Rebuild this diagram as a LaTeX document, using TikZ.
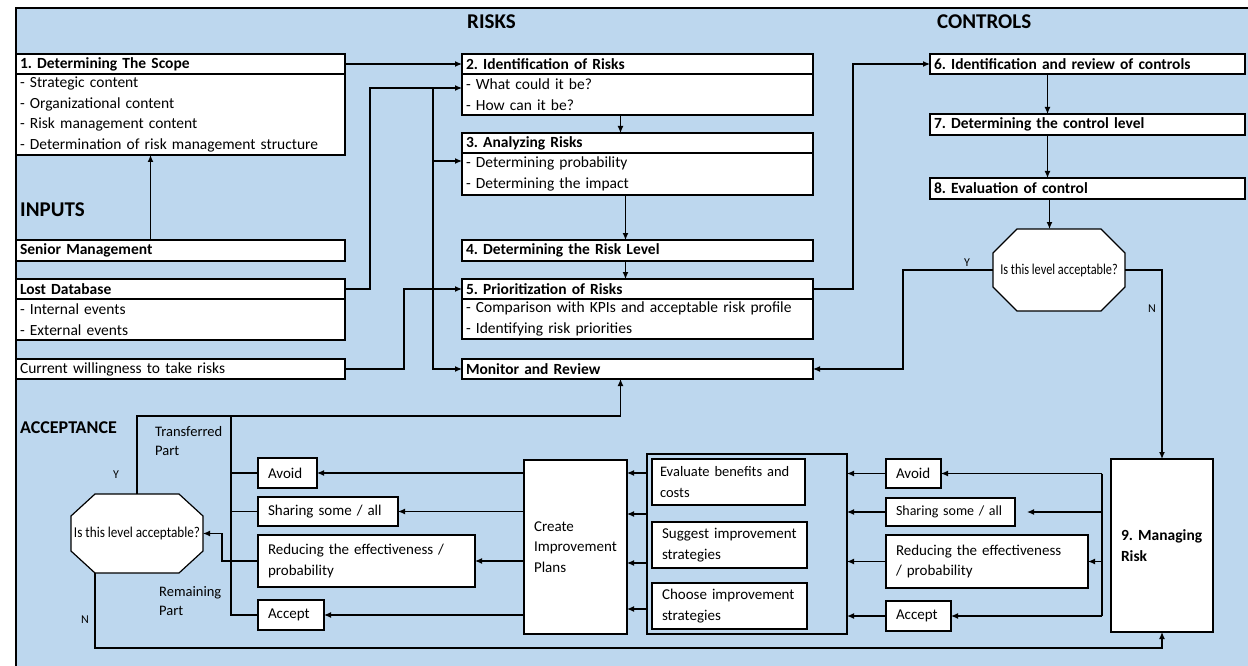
\documentclass[tikz,border=0pt]{standalone}
\usepackage{fontspec}
\setmainfont{Carlito}
\newfontfamily\narrowfont[FakeStretch=0.82]{Carlito}
\newfontfamily\narrowfontb[FakeStretch=0.88]{Carlito}
\usepackage{tikz}
\usetikzlibrary{arrows.meta,positioning,backgrounds}
\definecolor{bgblue}{RGB}{189,215,238}
\newcommand{\bodysize}{\fontsize{15.5}{20.5}\selectfont}
\newcommand{\lowsize}{\fontsize{15}{20.5}\selectfont}

\begin{document}
\frenchspacing
\begin{tikzpicture}[x=1pt,y=-1pt,
  box/.style={draw,fill=white,line width=2.2pt,anchor=north west,outer sep=0pt,
    inner xsep=4pt,inner ysep=0pt,align=left,font=\bodysize},
  hdr/.style={box,font=\bodysize\bfseries},
  sbox/.style={draw,fill=white,line width=1.3pt,anchor=north west,outer sep=0pt,
    inner xsep=10pt,inner ysep=0pt,align=left,font=\lowsize},
  ttl/.style={anchor=west,inner sep=0pt,font=\fontsize{21}{24}\selectfont\bfseries},
  lbl/.style={anchor=west,inner sep=0pt,align=left,font=\fontsize{14.5}{19}\selectfont},
  yn/.style={anchor=west,inner sep=0pt,font=\fontsize{12}{14}\selectfont},
  dec/.style={minimum width=132pt,inner sep=0pt,outer sep=0pt},
  ln/.style={line width=1.2pt},
  arr/.style={ln,-{Latex[length=7pt,width=6pt]}}]
\useasboundingbox (0,0) rectangle (1248,666);
% ---- INPUTS ----
\node[hdr,text width=321pt,minimum height=20pt] (s1h) at (16,54) {1. Determining The Scope};
\node[box,text width=321pt,minimum height=81pt] (s1b) at (16,74)
  {- Strategic content\\- Organizational content\\- Risk management content\\- Determination of risk management structure};
\node[ttl] (inp) at (20,210) {INPUTS};
\node[hdr,text width=321pt,minimum height=21pt] (sen) at (16,240) {Senior Management};
\node[hdr,text width=321pt,minimum height=20pt] (ldh) at (16,279) {Lost Database};
\node[box,text width=321pt,minimum height=41pt] (ldb) at (16,299) {- Internal events\\- External events};
\node[box,text width=321pt,minimum height=20pt] (cur) at (16,359) {Current willingness to take risks};
% ---- RISKS ----
\node[ttl] (rsk) at (467,22) {RISKS};
\node[hdr,text width=343pt,minimum height=20pt] (s2h) at (462,54) {2. Identification of Risks};
\node[box,text width=343pt,minimum height=41pt] (s2b) at (462,74) {- What could it be?\\- How can it be?};
\node[hdr,text width=343pt,minimum height=20pt] (s3h) at (462,133) {3. Analyzing Risks};
\node[box,text width=343pt,minimum height=42pt] (s3b) at (462,153) {- Determining probability\\- Determining the impact};
\node[hdr,text width=343pt,minimum height=21pt] (s4) at (462,240) {4. Determining the Risk Level};
\node[hdr,text width=343pt,minimum height=20pt] (s5h) at (462,279) {5. Prioritization of Risks};
\node[box,text width=343pt,minimum height=40pt] (s5b) at (462,299)
  {- Comparison with KPIs and acceptable risk profile\\- Identifying risk priorities};
\node[hdr,text width=343pt,minimum height=20pt] (mon) at (462,359) {Monitor and Review};
% ---- CONTROLS ----
\node[ttl] (ctl) at (937,22) {CONTROLS};
\node[hdr,text width=307pt,minimum height=20pt] (s6) at (930,54) {6. Identification and review of controls};
\node[hdr,text width=307pt,minimum height=21pt] (s7) at (930,114) {7. Determining the control level};
\node[hdr,text width=307pt,minimum height=21pt] (s8) at (930,178) {8. Evaluation of control};
\node[dec,minimum height=82pt,font=\narrowfont\fontsize{15}{18}\selectfont] (oct1) at (1059,270) {Is this level acceptable?};
\node[yn] (y1) at (964,263) {Y};
\node[yn] (n1) at (1148,309) {N};
% ---- ACCEPTANCE / managing ----
\node[ttl,font=\fontsize{18}{20}\selectfont\bfseries] (acc) at (20,428) {ACCEPTANCE};
\node[dec,minimum height=79pt,font=\narrowfontb\fontsize{15}{18}\selectfont] (oct2) at (137,533.5) {Is this level acceptable?};
\node[yn] (y2) at (113,475) {Y};
\node[yn] (n2) at (81,620) {N};
\node[lbl] (trp) at (155,441.5) {Transferred\\Part};
\node[lbl] (rmp) at (159,601) {Remaining\\Part};
\node[sbox,text width=39pt,minimum height=30pt] (avL) at (258,458) {Avoid};
\node[sbox,text width=120pt,minimum height=29pt] (shL) at (258,497) {Sharing some / all};
\node[sbox,text width=197pt,minimum height=52pt] (redL) at (258,535) {Reducing the effectiveness /\\probability};
\node[sbox,text width=46pt,minimum height=30pt] (acL) at (258,600) {Accept};
\node[sbox,text width=83pt,minimum height=174pt] (cip) at (524,460) {Create\\Improvement\\Plans};
\node[draw,line width=1.3pt,anchor=north west,outer sep=0pt,inner sep=0pt,
  minimum width=200pt,minimum height=180pt] (grp) at (647,454) {};
\node[sbox,inner xsep=8pt,text width=137pt,minimum height=46pt,font=\fontsize{14.5}{20.5}\selectfont] (ev) at (652,459) {Evaluate benefits and\\costs};
\node[sbox,text width=135pt,minimum height=46pt] (sug) at (652,522) {Suggest improvement\\strategies};
\node[sbox,text width=135pt,minimum height=46pt] (cho) at (652,583) {Choose improvement\\strategies};
\node[sbox,text width=35pt,minimum height=29pt] (avR) at (886,459) {Avoid};
\node[sbox,text width=109pt,minimum height=28pt,font=\fontsize{14}{19}\selectfont] (shR) at (886,498) {Sharing some / all};
\node[sbox,text width=182pt,minimum height=53pt] (redR) at (886,535) {Reducing the effectiveness\\/ probability};
\node[sbox,text width=45pt,minimum height=30pt] (acR) at (886,601) {Accept};
\node[sbox,text width=82pt,minimum height=173pt,font=\bodysize\bfseries] (mgr) at (1111,459) {9. Managing\\Risk};
\coordinate (tp) at (231,416);
\coordinate (tr) at (1102,0);
% ---- background, octagons, frame ----
\begin{scope}[on background layer]
\fill[bgblue] (16,8) rectangle (1248,666);
\foreach \o/\cy in {oct1/24,oct2/22}
  \draw[ln,fill=white] ([xshift=24pt]\o.north west) -- ([xshift=-24pt]\o.north east)
    -- ([yshift=-\cy pt]\o.north east) -- ([yshift=\cy pt]\o.south east)
    -- ([xshift=-24pt]\o.south east) -- ([xshift=24pt]\o.south west)
    -- ([yshift=\cy pt]\o.south west) -- ([yshift=-\cy pt]\o.north west) -- cycle;
\end{scope}
\draw[line width=2pt] (16,666) -- (16,8) -- (1248,8);
% ---- top connectors ----
\draw[arr] (s1h.east) -- (s2h.west);
\draw[arr] ([xshift=-30pt]sen.north) -- ([xshift=-30pt]s1b.south);
\draw[arr] (ldh.east) -- ++(25,0) |- ([yshift=6.5pt]s2b.west);
\draw[arr] ([yshift=6.5pt]s2b.west) ++(-29,0) |- ([yshift=13pt]s3b.west);
\draw[arr] ([yshift=6.5pt]s2b.west) ++(-29,0) |- (mon.west);
\draw[arr] (cur.east) -- ++(59,0) |- (s5h.west);
\draw[arr] ([xshift=-17pt]s2b.south) -- ([xshift=-17pt]s3h.north);
\draw[arr] ([xshift=-12pt]s3b.south) -- ([xshift=-12pt]s4.north);
\draw[arr] ([xshift=-12pt]s4.south) -- ([xshift=-12pt]s5h.north);
\draw[arr] (s5h.east) -- ++(40,0) |- (s6.west);
\draw[arr] ([xshift=-40pt]s6.south) -- ([xshift=-40pt]s7.north);
\draw[arr] ([xshift=-40pt]s7.south) -- ([xshift=-40pt]s8.north);
\draw[arr] ([xshift=-38pt]s8.south) -- ([xshift=-38pt]s8.south |- oct1.north);
\draw[arr] (oct1.west) -- ++(-90,0) |- (mon.east);
\draw[arr] (oct1.east) -| (mgr.north);
% ---- bottom connectors ----
\draw[arr] (oct2.north) -- ++(0,-78) -| ([xshift=-17pt]mon.south);
\draw[ln] (acL.west) -| (tp);
\draw[ln] (avL.west) -- (avL.west -| tp);
\draw[ln] (shL.west) -- (shL.west -| tp);
\draw[arr] (redL.west) -- ++(-36,0) |- (oct2.east);
\draw[arr] ([xshift=24pt]oct2.south west) -- ++(0,75) -| (mgr.south);
\foreach \b in {avL,shL,redL,acL}
  \draw[arr] (cip.west |- \b.east) -- (\b.east);
\foreach \dy in {71,30,-19,-65}
  \draw[arr] ([yshift=\dy pt]grp.west) -- ([yshift=\dy pt]grp.west -| cip.east);
\foreach \b in {avR,shR,redR,acR}
  \draw[arr] (\b.west) -- (\b.west -| grp.east);
\draw[ln] (avR.east -| tr) -- (acR.east -| tr);
\foreach \b in {avR,redR,acR}
  \draw[arr] (\b.east -| tr) -- (\b.east);
\draw[arr] (shR.east -| tr) -- ([xshift=12pt]shR.east);
\end{tikzpicture}
\end{document}
